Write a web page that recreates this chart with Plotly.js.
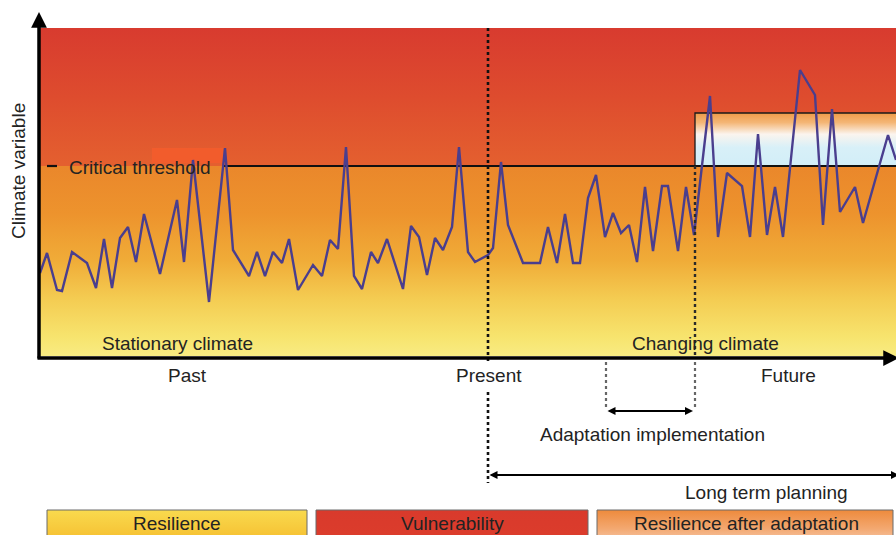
<!DOCTYPE html>
<html>
<head>
<meta charset="utf-8">
<script src="https://cdn.plot.ly/plotly-3.0.1.min.js"></script>
<style>html,body{margin:0;padding:0;background:#fff;}#chart{width:896px;height:535px;}</style>
</head>
<body>
<div id="chart"></div>
<script>
// ---- Data (time units along x, climate variable along y) ----
const time = [40,47,57,62,72,87,96,104,112,120,128,136,144,160,177,184,193,209,225,233,249,257,265,273,282,289,298,313,322,330,338,346,354,362,371,378,387,403,411,419,427,435,443,452,459,468,475,488,493,501,508,523,540,548,557,565,573,580,588,596,605,613,621,629,637,645,653,662,668,678,686,694,710,718,727,742,750,758,767,775,783,800,815,823,832,840,855,863,888,896];
const climate = [84,104,67,66,105,94,69,118,69,119,130,95,143,83,157,95,197,55,209,107,81,105,81,105,94,118,67,92,81,117,108,210,81,68,105,94,118,68,131,120,82,119,107,130,210,105,95,102,109,195,132,94,94,130,94,143,94,94,159,182,120,144,124,132,95,170,106,171,171,106,170,122,261,120,184,171,120,223,122,170,120,287,262,132,248,145,170,134,222,197];

// ---- Reference levels and moments ----
const criticalThreshold = 191;
const adaptedThreshold = 244;
const climateTop = 329;
const timeStart = 40;
const timeEnd = 896;
const presentTime = 488;
const adaptationStart = 606;
const adaptationEnd = 695;

// ---- Text labels ----
const axisTitle = "Climate variable";
const thresholdLabel = "Critical threshold";
const periodLabels = ["Stationary climate", "Changing climate"];
const timeLabels = ["Past", "Present", "Future"];
const adaptationLabel = "Adaptation implementation";
const planningLabel = "Long term planning";
const legendLabels = ["Resilience", "Vulnerability", "Resilience after adaptation"];

// ---- Styles ----
const FONT = "Liberation Sans, Arial, Helvetica, sans-serif";
const TXT = "#232323";
const FS = 19;
const lowScale = [[0,"#f8ec82"],[0.1,"#f7e46e"],[0.3,"#f4cc52"],[0.5,"#f0ac38"],[0.75,"#ed932d"],[1,"#ea872b"]];
const highScale = [[0,"#e4602f"],[0.5,"#de4c2e"],[1,"#d83b2f"]];
const boxScale = [[0,"#d2eef8"],[0.35,"#d8f0f8"],[0.6,"#fbf4ee"],[0.82,"#f4b676"],[1,"#ee9a48"]];

const yMin = -178, yMax = 357;
const legendTop = -153, legendBottom = -190;

const traces = [];
function region(x0, x1, y0, y1, scale, lineColor, lineWidth) {
  return {
    type: "scatter", mode: "lines",
    x: [x0, x1, x1, x0, x0], y: [y0, y0, y1, y1, y0],
    fill: "toself",
    fillgradient: {type: "vertical", colorscale: scale, start: y0, stop: y1},
    line: {color: lineColor || "rgba(0,0,0,0)", width: lineWidth || 0},
    hoverinfo: "skip"
  };
}
// background climate zones
traces.push(region(timeStart, timeEnd, 1, criticalThreshold, lowScale));
traces.push(region(timeStart, timeEnd, criticalThreshold, climateTop, highScale));
// bright patch near the label
traces.push({type:"scatter", mode:"lines", x:[152,223,223,152,152], y:[194,194,209,209,194],
  fill:"toself", fillcolor:"#f25c2c", line:{width:0, color:"rgba(0,0,0,0)"}, hoverinfo:"skip"});
// adapted resilience box
traces.push(region(adaptationEnd, 902, criticalThreshold, adaptedThreshold, boxScale, "#1a1a1a", 1.3));
// critical threshold line
traces.push({type:"scatter", mode:"lines", x:[47,57,null,222,timeEnd], y:[criticalThreshold,criticalThreshold,null,criticalThreshold,criticalThreshold],
  line:{color:"#111", width:2.2}, hoverinfo:"skip"});
// climate series
traces.push({type:"scatter", mode:"lines", x: time, y: climate,
  line:{color:"#4a3e8e", width:2.4}, hoverinfo:"skip"});
// present dotted line
traces.push({type:"scatter", mode:"lines", x:[presentTime,presentTime,null,presentTime,presentTime], y:[climateTop,-6,null,-35,-126],
  line:{color:"#111", width:2.6, dash:"dot"}, hoverinfo:"skip"});
// adaptation end dotted line (inside plot)
traces.push({type:"scatter", mode:"lines", x:[adaptationEnd,adaptationEnd], y:[criticalThreshold,0],
  line:{color:"#2a2a2a", width:2.4, dash:"dot"}, hoverinfo:"skip"});
// adaptation dotted lines below axis
traces.push({type:"scatter", mode:"lines", x:[adaptationStart,adaptationStart,null,adaptationEnd,adaptationEnd], y:[-5,-53,null,-5,-53],
  line:{color:"#666", width:2.2, dash:"dot"}, hoverinfo:"skip"});
// legend boxes
traces.push(region(47, 307, legendBottom, legendTop, [[0,"#f5b92a"],[1,"#f9da4e"]], "#6a6a6a", 1));
traces.push(region(316, 588, legendBottom, legendTop, [[0,"#dc3d2c"],[1,"#d93a2c"]], "#6a6a6a", 1));
traces.push(region(597, 893, legendBottom, legendTop, [[0,"#f7d2bc"],[0.5,"#f3a870"],[1,"#ee8a3c"]], "#6a6a6a", 1));

function label(text, x, y, anchor, extra) {
  return Object.assign({text: text, x: x, y: y, xref: "x", yref: "y", showarrow: false,
    xanchor: anchor || "center", yanchor: "middle", font: {family: FONT, size: FS, color: TXT}}, extra || {});
}
function arrow(x, y, ax, ay, w, size, side) {
  return {text: "", x: x, y: y, ax: ax, ay: ay, xref: "x", yref: "y", axref: "x", ayref: "y",
    showarrow: true, arrowhead: 2, arrowsize: size, arrowwidth: w, arrowcolor: "#000",
    arrowside: side || "end", standoff: 0, startstandoff: 0};
}

const annotations = [
  label(axisTitle, 18, 186, "center", {textangle: -90}),
  label(thresholdLabel, 67, 190, "left"),
  label(periodLabels[0], 177, 14),
  label(periodLabels[1], 705, 14),
  label(timeLabels[0], 187, -18),
  label(timeLabels[1], 489, -18),
  label(timeLabels[2], 788, -18),
  label(adaptationLabel, 652, -77),
  label(planningLabel, 766, -135),
  label(legendLabels[0], 177, -166),
  label(legendLabels[1], 452, -166),
  label(legendLabels[2], 746, -166),
  arrow(39, 345, 39, -3, 3.5, 0.9),
  arrow(899, -1, 36, -1, 3.5, 0.9),
  arrow(693, -54, adaptationStart, -54, 2, 0.8, "end+start"),
  arrow(899, -118, presentTime, -118, 2, 0.8, "end+start")
];

const layout = {
  width: 896, height: 535,
  margin: {l: 0, r: 0, t: 0, b: 0, pad: 0},
  paper_bgcolor: "#ffffff", plot_bgcolor: "#ffffff",
  showlegend: false, hovermode: false,
  xaxis: {range: [0, 896], visible: false, fixedrange: true},
  yaxis: {range: [yMin, yMax], visible: false, fixedrange: true},
  annotations: annotations
};

Plotly.newPlot("chart", traces, layout, {staticPlot: true, displayModeBar: false});
</script>
</body>
</html>
